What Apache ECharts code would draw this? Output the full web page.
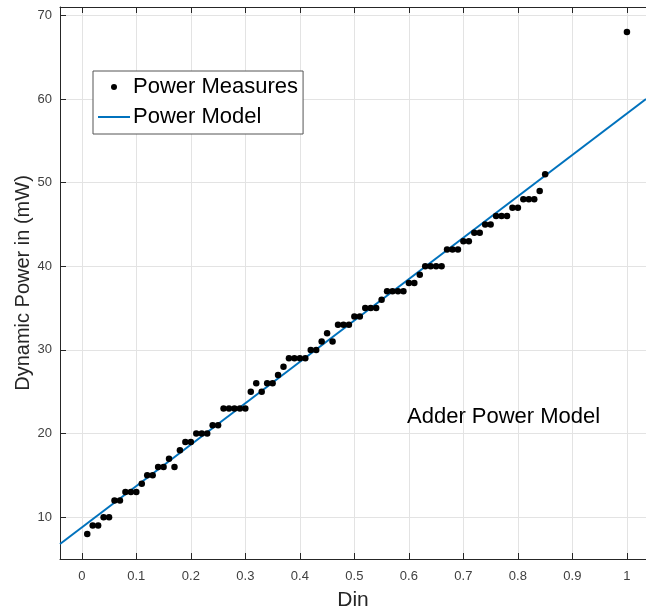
<!DOCTYPE html>
<html>
<head>
<meta charset="utf-8">
<script src="https://cdn.jsdelivr.net/npm/echarts@6/dist/echarts.min.js"></script>
<style>
  html, body { margin: 0; padding: 0; background: #fff; }
  #chart { width: 646px; height: 613px; }
</style>
</head>
<body>
<div id="chart"></div>
<script>
// measured points (Din, power in mW)
const dinValues = [
  0.01, 0.02, 0.03, 0.04, 0.05, 0.06, 0.07, 0.08, 0.09, 0.10,
  0.11, 0.12, 0.13, 0.14, 0.15, 0.16, 0.17, 0.18, 0.19, 0.20,
  0.21, 0.22, 0.23, 0.24, 0.25, 0.26, 0.27, 0.28, 0.29, 0.30,
  0.31, 0.32, 0.33, 0.34, 0.35, 0.36, 0.37, 0.38, 0.39, 0.40,
  0.41, 0.42, 0.43, 0.44, 0.45, 0.46, 0.47, 0.48, 0.49, 0.50,
  0.51, 0.52, 0.53, 0.54, 0.55, 0.56, 0.57, 0.58, 0.59, 0.60,
  0.61, 0.62, 0.63, 0.64, 0.65, 0.66, 0.67, 0.68, 0.69, 0.70,
  0.71, 0.72, 0.73, 0.74, 0.75, 0.76, 0.77, 0.78, 0.79, 0.80,
  0.81, 0.82, 0.83, 0.84, 0.85, 1.00
];
const powerValues = [
  8, 9, 9, 10, 10, 12, 12, 13, 13, 13,
  14, 15, 15, 16, 16, 17, 16, 18, 19, 19,
  20, 20, 20, 21, 21, 23, 23, 23, 23, 23,
  25, 26, 25, 26, 26, 27, 28, 29, 29, 29,
  29, 30, 30, 31, 32, 31, 33, 33, 33, 34,
  34, 35, 35, 35, 36, 37, 37, 37, 37, 38,
  38, 39, 40, 40, 40, 40, 42, 42, 42, 43,
  43, 44, 44, 45, 45, 46, 46, 46, 47, 47,
  48, 48, 48, 49, 51, 68
];

// linear model endpoints
const modelDin = [-0.04, 1.035];
const modelPower = [6.79, 60.0];

const xTicks = [0, 0.1, 0.2, 0.3, 0.4, 0.5, 0.6, 0.7, 0.8, 0.9, 1];
const yTicks = [10, 20, 30, 40, 50, 60, 70];

const font = '"Liberation Sans", Arial, Helvetica, sans-serif';
const axisColor = '#262626';

const measures = dinValues.map((d, i) => [d, powerValues[i]]);
const model = modelDin.map((d, i) => [d, modelPower[i]]);

const chart = echarts.init(document.getElementById('chart'));

const option = {
  backgroundColor: '#fff',
  animation: false,
  textStyle: { fontFamily: font },
  grid: { left: 60, right: 0, top: 7, bottom: 54, containLabel: false, outerBoundsMode: 'none' },
  legend: {
    orient: 'vertical',
    left: 93,
    top: 71,
    padding: [5, 5, 6, 4],
    itemGap: 8,
    itemWidth: 32,
    itemHeight: 6,
    borderColor: '#555',
    borderWidth: 1,
    backgroundColor: '#fff',
    textStyle: { fontFamily: font, fontSize: 22, color: '#000', padding: [0, 0, 0, -2] },
    data: [
      { name: 'Power Measures', icon: 'circle' },
      { name: 'Power Model', itemStyle: { opacity: 0 } }
    ]
  },
  xAxis: [{
    type: 'value',
    min: -0.04,
    max: 1.035,
    name: 'Din',
    nameLocation: 'middle',
    nameGap: 31,
    nameMoveOverlap: false,
    nameTextStyle: { fontFamily: font, fontSize: 21, color: axisColor },
    axisLine: { show: true, onZero: false, lineStyle: { color: axisColor, width: 1 } },
    axisTick: { show: true, inside: true, length: 6, customValues: xTicks, lineStyle: { color: axisColor } },
    axisLabel: { customValues: xTicks, fontSize: 13, color: '#404040', margin: 11, fontFamily: font },
    splitLine: { show: true, lineStyle: { color: '#e3e3e3', width: 1 } }
  }, {
    type: 'value',
    position: 'top',
    min: -0.04,
    max: 1.035,
    axisLine: { show: true, onZero: false, lineStyle: { color: axisColor, width: 1 } },
    axisTick: { show: true, inside: true, length: 6, customValues: xTicks, lineStyle: { color: axisColor } },
    axisLabel: { show: false },
    splitLine: { show: false }
  }],
  yAxis: {
    type: 'value',
    min: 5,
    max: 71,
    name: 'Dynamic Power in (mW)',
    nameLocation: 'middle',
    nameGap: 27,
    nameMoveOverlap: false,
    nameTextStyle: { fontFamily: font, fontSize: 20, color: axisColor },
    axisLine: { show: true, onZero: false, lineStyle: { color: axisColor, width: 1 } },
    axisTick: { show: true, inside: true, length: 6, customValues: yTicks, lineStyle: { color: axisColor } },
    axisLabel: { customValues: yTicks, fontSize: 13, color: '#404040', margin: 8, fontFamily: font },
    splitLine: { show: true, lineStyle: { color: '#e3e3e3', width: 1 } }
  },
  series: [{
    name: 'Power Measures',
    type: 'scatter',
    data: measures,
    symbol: 'circle',
    symbolSize: 6.5,
    itemStyle: { color: '#000', opacity: 1 },
    z: 3
  }, {
    name: 'Power Model',
    type: 'line',
    data: model,
    symbol: 'none',
    lineStyle: { color: '#0072BD', width: 2 },
    itemStyle: { color: '#0072BD' },
    clip: true,
    z: 2
  }],
  graphic: [{
    type: 'text',
    left: 407,
    top: 406,
    z: 100,
    style: { text: 'Adder Power Model', font: '22px ' + font, fill: '#000' }
  }]
};

chart.setOption(option);
</script>
</body>
</html>
